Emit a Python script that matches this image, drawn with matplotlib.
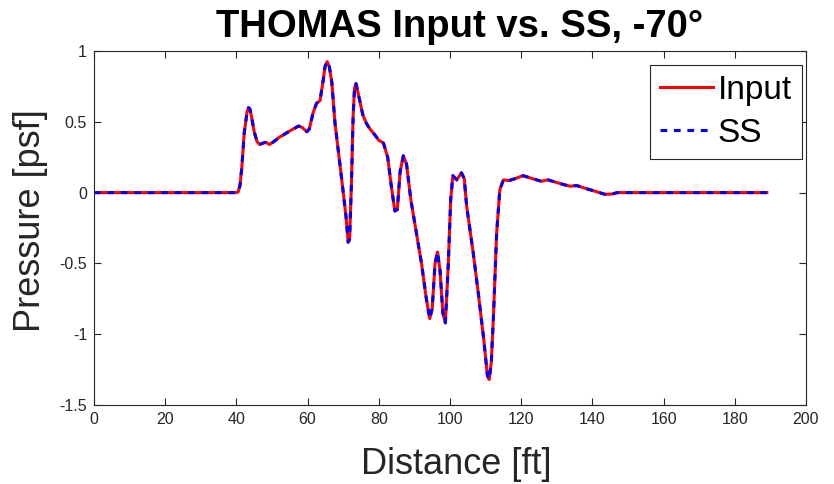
import numpy as np
import matplotlib.pyplot as plt

# values
distance = [0, 40, 40.5, 41, 41.5, 42.2, 43.0, 43.4, 43.8, 44.3, 45.0, 45.8, 46.5, 47.5,
            48.3, 49.3, 50.5, 52, 54, 56, 57.5, 58.5, 59.8, 60.5, 61.5, 62.5, 63.5,
            64.3, 64.9, 65.5, 66.1, 66.8, 67.7, 68.7, 69.6, 70.8, 71.4, 71.8, 72.3,
            72.8, 73.2, 73.6, 74.3, 75.5, 76.5, 77.5, 78.5, 80, 81.3, 82.5, 83.5, 84.5,
            85.2, 86, 86.9, 87.8, 89, 90.6, 92, 93.3, 94.3, 95, 95.8, 96.5, 97.2, 98,
            98.7, 99.5, 100.2, 100.8, 101.9, 103.2, 104, 104.7, 106.5, 108, 109.5,
            110.5, 111, 111.6, 112.2, 113.1, 114, 115, 116.5, 118.5, 120.5, 123, 125.7,
            127.5, 129.5, 131.5, 133.7, 135.6, 138, 140.3, 142, 143.5, 145.5, 147, 189]
pressure = [0, 0, 0.005, 0.05, 0.17, 0.42, 0.57, 0.60, 0.59, 0.53, 0.43, 0.36, 0.34, 0.35,
            0.355, 0.34, 0.36, 0.39, 0.42, 0.45, 0.47, 0.46, 0.43, 0.45, 0.56, 0.63, 0.65,
            0.78, 0.89, 0.925, 0.89, 0.78, 0.49, 0.28, 0.09, -0.17, -0.35, -0.33, 0.05,
            0.55, 0.74, 0.77, 0.69, 0.55, 0.49, 0.45, 0.42, 0.37, 0.35, 0.25, 0.05, -0.13,
            -0.12, 0.15, 0.26, 0.20, -0.05, -0.29, -0.50, -0.74, -0.89, -0.82, -0.50, -0.42,
            -0.55, -0.85, -0.92, -0.52, -0.05, 0.12, 0.09, 0.14, 0.10, -0.10, -0.42, -0.72,
            -1.04, -1.29, -1.32, -1.20, -0.88, -0.29, 0.02, 0.09, 0.085, 0.10, 0.12, 0.10,
            0.08, 0.09, 0.075, 0.06, 0.045, 0.05, 0.03, 0.013, 0.0, -0.012, -0.01, 0.0, 0.0]

x_ticks = list(range(0, 201, 20))
y_ticks = [-1.5, -1, -0.5, 0, 0.5, 1]
y_tick_labels = ['-1.5', '-1', '-0.5', '0', '0.5', '1']

plt.rcParams['font.family'] = ['Liberation Sans', 'DejaVu Sans']

fig = plt.figure(figsize=(8.34, 4.84), dpi=100)
ax = fig.add_axes([0.1127, 0.1632, 0.8537, 0.7314])

ax.plot(distance, pressure, color='#ff0000', lw=2.2, label='Input')
ax.plot(distance, pressure, color='#0000ff', lw=2.2, ls=(0, (2.2, 2.2)), label='SS')

ax.set_xlim(0, 200)
ax.set_ylim(-1.5, 1)
ax.set_xticks(x_ticks)
ax.set_yticks(y_ticks)
ax.set_yticklabels(y_tick_labels)

edge = '#262626'
for s in ax.spines.values():
    s.set_color(edge)
    s.set_linewidth(0.8)
ax.tick_params(direction='in', top=True, right=True, length=5, width=0.8,
               color=edge, labelcolor=edge, labelsize=11.5, pad=5)

ax.set_xlabel('Distance [ft]', fontsize=26, color=edge)
ax.xaxis.set_label_coords(0.509, -0.12)
ax.set_ylabel('Pressure [psf]', fontsize=26, color=edge)
ax.yaxis.set_label_coords(-0.064, 0.52)
ax.set_title('THOMAS Input vs. SS, -70°', fontsize=27.5, fontweight='bold', pad=10, x=0.514)

leg = ax.legend(loc='upper right', bbox_to_anchor=(0.9944, 0.9605), fontsize=24,
                handlelength=1.6, handletextpad=0.15, labelspacing=0.36,
                borderpad=0.3, borderaxespad=0, fancybox=False, framealpha=1)
leg.get_frame().set_edgecolor(edge)
leg.get_frame().set_linewidth(0.8)

fig.savefig('out.png', dpi=100)
